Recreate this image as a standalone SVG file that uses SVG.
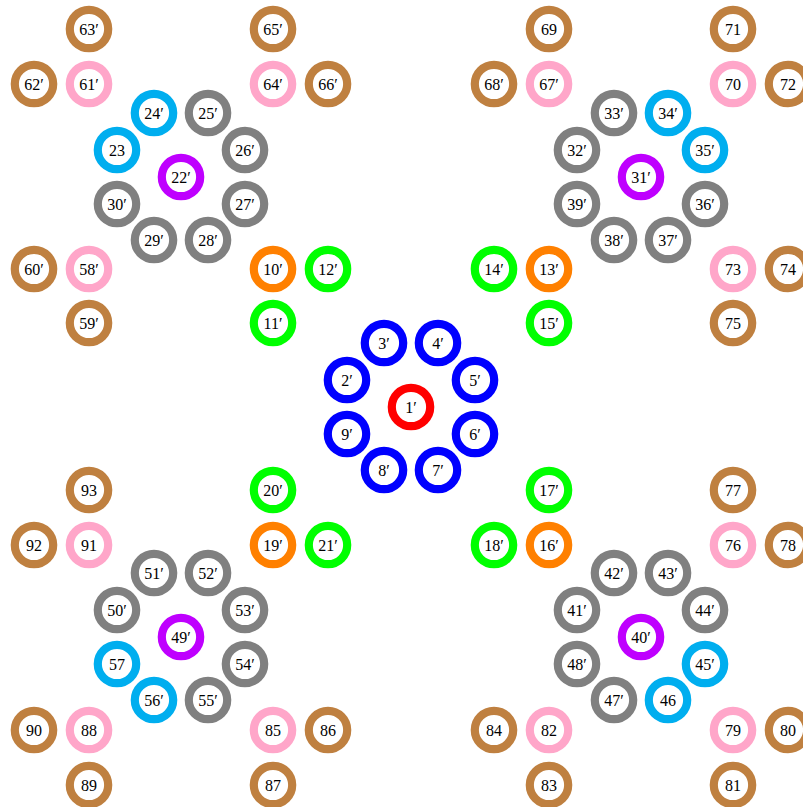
<svg xmlns="http://www.w3.org/2000/svg" width="803" height="807" viewBox="0 0 803 807">
<style>
circle{fill:#fff;stroke-width:8.2}
text{font-family:"Liberation Serif","DejaVu Serif",serif;font-size:16px;text-anchor:middle;dominant-baseline:central;fill:#000}
.red circle{stroke:#ff0000}
.blue circle{stroke:#0000ff}
.gray circle{stroke:#808080}
.cyan circle{stroke:#00aeef}
.violet circle{stroke:#bf00ff}
.brown circle{stroke:#bf8040}
.pink circle{stroke:#ffa6c9}
.orange circle{stroke:#ff8000}
.green circle{stroke:#00ff00}
</style>
<rect width="803" height="807" fill="#fff"/>
<g id="connectors"/>
<!-- center -->
<g id="n1p" class="red"><circle cx="411" cy="407" r="19.2"/><text x="411" y="407">1′</text></g>
<g id="n2p" class="blue"><circle cx="347" cy="380" r="19.2"/><text x="347" y="380">2′</text></g>
<g id="n3p" class="blue"><circle cx="384" cy="343" r="19.2"/><text x="384" y="343">3′</text></g>
<g id="n4p" class="blue"><circle cx="438" cy="343" r="19.2"/><text x="438" y="343">4′</text></g>
<g id="n5p" class="blue"><circle cx="475" cy="380" r="19.2"/><text x="475" y="380">5′</text></g>
<g id="n6p" class="blue"><circle cx="475" cy="434" r="19.2"/><text x="475" y="434">6′</text></g>
<g id="n7p" class="blue"><circle cx="438" cy="470" r="19.2"/><text x="438" y="470">7′</text></g>
<g id="n8p" class="blue"><circle cx="384" cy="470" r="19.2"/><text x="384" y="470">8′</text></g>
<g id="n9p" class="blue"><circle cx="347" cy="434" r="19.2"/><text x="347" y="434">9′</text></g>
<!-- top-left cluster -->
<g id="n22p" class="violet"><circle cx="181" cy="177" r="19.2"/><text x="181" y="177">22′</text></g>
<g id="n23" class="cyan"><circle cx="117" cy="150" r="19.2"/><text x="117" y="150">23</text></g>
<g id="n24p" class="cyan"><circle cx="154" cy="113" r="19.2"/><text x="154" y="113">24′</text></g>
<g id="n25p" class="gray"><circle cx="208" cy="113" r="19.2"/><text x="208" y="113">25′</text></g>
<g id="n26p" class="gray"><circle cx="245" cy="150" r="19.2"/><text x="245" y="150">26′</text></g>
<g id="n27p" class="gray"><circle cx="245" cy="204" r="19.2"/><text x="245" y="204">27′</text></g>
<g id="n28p" class="gray"><circle cx="208" cy="240" r="19.2"/><text x="208" y="240">28′</text></g>
<g id="n29p" class="gray"><circle cx="154" cy="240" r="19.2"/><text x="154" y="240">29′</text></g>
<g id="n30p" class="gray"><circle cx="117" cy="204" r="19.2"/><text x="117" y="204">30′</text></g>
<!-- top-right cluster -->
<g id="n31p" class="violet"><circle cx="641" cy="177" r="19.2"/><text x="641" y="177">31′</text></g>
<g id="n32p" class="gray"><circle cx="577" cy="150" r="19.2"/><text x="577" y="150">32′</text></g>
<g id="n33p" class="gray"><circle cx="614" cy="113" r="19.2"/><text x="614" y="113">33′</text></g>
<g id="n34p" class="cyan"><circle cx="668" cy="113" r="19.2"/><text x="668" y="113">34′</text></g>
<g id="n35p" class="cyan"><circle cx="705" cy="150" r="19.2"/><text x="705" y="150">35′</text></g>
<g id="n36p" class="gray"><circle cx="705" cy="204" r="19.2"/><text x="705" y="204">36′</text></g>
<g id="n37p" class="gray"><circle cx="668" cy="240" r="19.2"/><text x="668" y="240">37′</text></g>
<g id="n38p" class="gray"><circle cx="614" cy="240" r="19.2"/><text x="614" y="240">38′</text></g>
<g id="n39p" class="gray"><circle cx="577" cy="204" r="19.2"/><text x="577" y="204">39′</text></g>
<!-- bottom-right cluster -->
<g id="n40p" class="violet"><circle cx="641" cy="637" r="19.2"/><text x="641" y="637">40′</text></g>
<g id="n41p" class="gray"><circle cx="577" cy="610" r="19.2"/><text x="577" y="610">41′</text></g>
<g id="n42p" class="gray"><circle cx="614" cy="573" r="19.2"/><text x="614" y="573">42′</text></g>
<g id="n43p" class="gray"><circle cx="668" cy="573" r="19.2"/><text x="668" y="573">43′</text></g>
<g id="n44p" class="gray"><circle cx="705" cy="610" r="19.2"/><text x="705" y="610">44′</text></g>
<g id="n45p" class="cyan"><circle cx="705" cy="664" r="19.2"/><text x="705" y="664">45′</text></g>
<g id="n46" class="cyan"><circle cx="668" cy="700" r="19.2"/><text x="668" y="700">46</text></g>
<g id="n47p" class="gray"><circle cx="614" cy="700" r="19.2"/><text x="614" y="700">47′</text></g>
<g id="n48p" class="gray"><circle cx="577" cy="664" r="19.2"/><text x="577" y="664">48′</text></g>
<!-- bottom-left cluster -->
<g id="n49p" class="violet"><circle cx="181" cy="637" r="19.2"/><text x="181" y="637">49′</text></g>
<g id="n50p" class="gray"><circle cx="117" cy="610" r="19.2"/><text x="117" y="610">50′</text></g>
<g id="n51p" class="gray"><circle cx="154" cy="573" r="19.2"/><text x="154" y="573">51′</text></g>
<g id="n52p" class="gray"><circle cx="208" cy="573" r="19.2"/><text x="208" y="573">52′</text></g>
<g id="n53p" class="gray"><circle cx="245" cy="610" r="19.2"/><text x="245" y="610">53′</text></g>
<g id="n54p" class="gray"><circle cx="245" cy="664" r="19.2"/><text x="245" y="664">54′</text></g>
<g id="n55p" class="gray"><circle cx="208" cy="700" r="19.2"/><text x="208" y="700">55′</text></g>
<g id="n56p" class="cyan"><circle cx="154" cy="700" r="19.2"/><text x="154" y="700">56′</text></g>
<g id="n57" class="cyan"><circle cx="117" cy="664" r="19.2"/><text x="117" y="664">57</text></g>
<!-- inner corner nodes -->
<g id="n10p" class="orange"><circle cx="273" cy="269" r="19.2"/><text x="273" y="269">10′</text></g>
<g id="n11p" class="green"><circle cx="273" cy="323" r="19.2"/><text x="273" y="323">11′</text></g>
<g id="n12p" class="green"><circle cx="328" cy="269" r="19.2"/><text x="328" y="269">12′</text></g>
<g id="n13p" class="orange"><circle cx="549" cy="269" r="19.2"/><text x="549" y="269">13′</text></g>
<g id="n14p" class="green"><circle cx="494" cy="269" r="19.2"/><text x="494" y="269">14′</text></g>
<g id="n15p" class="green"><circle cx="549" cy="323" r="19.2"/><text x="549" y="323">15′</text></g>
<g id="n16p" class="orange"><circle cx="549" cy="545" r="19.2"/><text x="549" y="545">16′</text></g>
<g id="n17p" class="green"><circle cx="549" cy="490" r="19.2"/><text x="549" y="490">17′</text></g>
<g id="n18p" class="green"><circle cx="494" cy="545" r="19.2"/><text x="494" y="545">18′</text></g>
<g id="n19p" class="orange"><circle cx="273" cy="545" r="19.2"/><text x="273" y="545">19′</text></g>
<g id="n20p" class="green"><circle cx="273" cy="490" r="19.2"/><text x="273" y="490">20′</text></g>
<g id="n21p" class="green"><circle cx="328" cy="545" r="19.2"/><text x="328" y="545">21′</text></g>
<!-- outer top-left -->
<g id="n58p" class="pink"><circle cx="89" cy="269" r="19.2"/><text x="89" y="269">58′</text></g>
<g id="n59p" class="brown"><circle cx="89" cy="323" r="19.2"/><text x="89" y="323">59′</text></g>
<g id="n60p" class="brown"><circle cx="34" cy="269" r="19.2"/><text x="34" y="269">60′</text></g>
<g id="n61p" class="pink"><circle cx="89" cy="84" r="19.2"/><text x="89" y="84">61′</text></g>
<g id="n62p" class="brown"><circle cx="34" cy="84" r="19.2"/><text x="34" y="84">62′</text></g>
<g id="n63p" class="brown"><circle cx="89" cy="29" r="19.2"/><text x="89" y="29">63′</text></g>
<g id="n64p" class="pink"><circle cx="273" cy="84" r="19.2"/><text x="273" y="84">64′</text></g>
<g id="n65p" class="brown"><circle cx="273" cy="29" r="19.2"/><text x="273" y="29">65′</text></g>
<g id="n66p" class="brown"><circle cx="328" cy="84" r="19.2"/><text x="328" y="84">66′</text></g>
<!-- outer top-right -->
<g id="n67p" class="pink"><circle cx="549" cy="84" r="19.2"/><text x="549" y="84">67′</text></g>
<g id="n68p" class="brown"><circle cx="494" cy="84" r="19.2"/><text x="494" y="84">68′</text></g>
<g id="n69" class="brown"><circle cx="549" cy="29" r="19.2"/><text x="549" y="29">69</text></g>
<g id="n70" class="pink"><circle cx="733" cy="84" r="19.2"/><text x="733" y="84">70</text></g>
<g id="n71" class="brown"><circle cx="733" cy="29" r="19.2"/><text x="733" y="29">71</text></g>
<g id="n72" class="brown"><circle cx="788" cy="84" r="19.2"/><text x="788" y="84">72</text></g>
<g id="n73" class="pink"><circle cx="733" cy="269" r="19.2"/><text x="733" y="269">73</text></g>
<g id="n74" class="brown"><circle cx="788" cy="269" r="19.2"/><text x="788" y="269">74</text></g>
<g id="n75" class="brown"><circle cx="733" cy="323" r="19.2"/><text x="733" y="323">75</text></g>
<!-- outer bottom-right -->
<g id="n76" class="pink"><circle cx="733" cy="545" r="19.2"/><text x="733" y="545">76</text></g>
<g id="n77" class="brown"><circle cx="733" cy="490" r="19.2"/><text x="733" y="490">77</text></g>
<g id="n78" class="brown"><circle cx="788" cy="545" r="19.2"/><text x="788" y="545">78</text></g>
<g id="n79" class="pink"><circle cx="733" cy="730" r="19.2"/><text x="733" y="730">79</text></g>
<g id="n80" class="brown"><circle cx="788" cy="730" r="19.2"/><text x="788" y="730">80</text></g>
<g id="n81" class="brown"><circle cx="733" cy="785" r="19.2"/><text x="733" y="785">81</text></g>
<g id="n82" class="pink"><circle cx="549" cy="730" r="19.2"/><text x="549" y="730">82</text></g>
<g id="n83" class="brown"><circle cx="549" cy="785" r="19.2"/><text x="549" y="785">83</text></g>
<g id="n84" class="brown"><circle cx="494" cy="730" r="19.2"/><text x="494" y="730">84</text></g>
<!-- outer bottom-left -->
<g id="n85" class="pink"><circle cx="273" cy="730" r="19.2"/><text x="273" y="730">85</text></g>
<g id="n86" class="brown"><circle cx="328" cy="730" r="19.2"/><text x="328" y="730">86</text></g>
<g id="n87" class="brown"><circle cx="273" cy="785" r="19.2"/><text x="273" y="785">87</text></g>
<g id="n88" class="pink"><circle cx="89" cy="730" r="19.2"/><text x="89" y="730">88</text></g>
<g id="n89" class="brown"><circle cx="89" cy="785" r="19.2"/><text x="89" y="785">89</text></g>
<g id="n90" class="brown"><circle cx="34" cy="730" r="19.2"/><text x="34" y="730">90</text></g>
<g id="n91" class="pink"><circle cx="89" cy="545" r="19.2"/><text x="89" y="545">91</text></g>
<g id="n92" class="brown"><circle cx="34" cy="545" r="19.2"/><text x="34" y="545">92</text></g>
<g id="n93" class="brown"><circle cx="89" cy="490" r="19.2"/><text x="89" y="490">93</text></g>
</svg>
